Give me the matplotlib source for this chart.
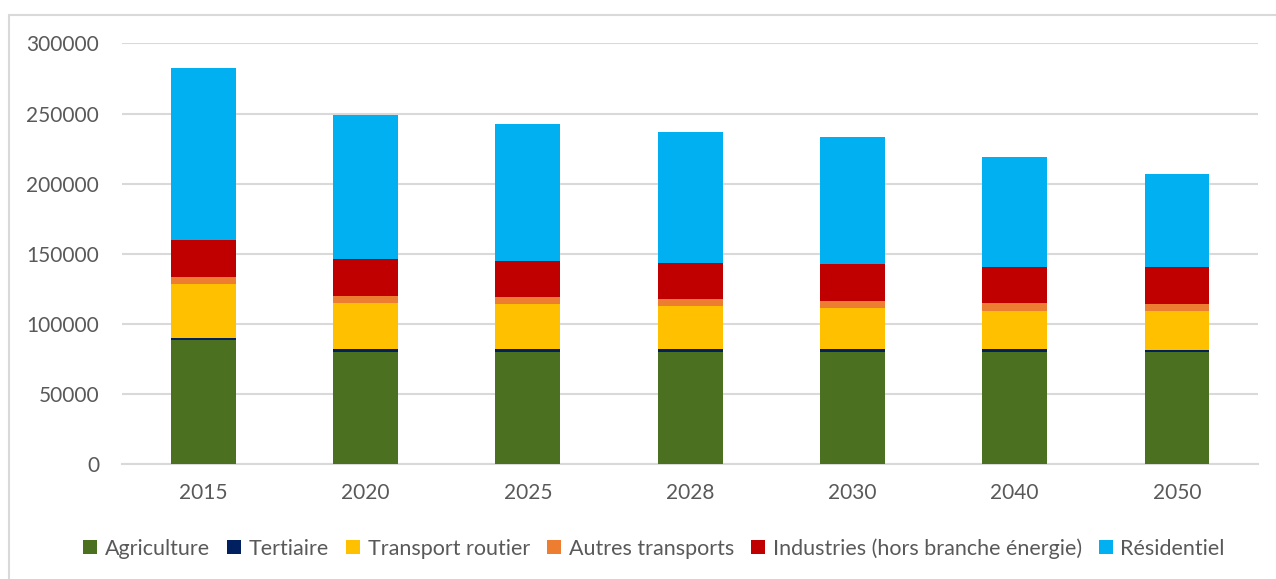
import numpy as np
import matplotlib.pyplot as plt
from matplotlib.patches import Rectangle

# Years on the x axis
years = ['2015', '2020', '2025', '2028', '2030', '2040', '2050']

# Series values (stacked, bottom to top)
agriculture = [88600, 80000, 80000, 80000, 80000, 80000, 80000]
tertiaire = [1600, 1700, 1700, 1700, 1700, 1700, 1400]
transport_routier = [38100, 33300, 32100, 30700, 29500, 27600, 27400]
autres_transports = [5000, 5000, 5500, 5000, 5200, 5500, 5500]
industries = [26700, 26000, 25700, 25700, 26000, 25400, 25900]
residentiel = [122500, 103300, 97900, 94000, 91200, 79100, 66900]

labels = ['Agriculture', 'Tertiaire', 'Transport routier', 'Autres transports',
          'Industries (hors branche énergie)', 'Résidentiel']
colors = ['#4a7020', '#002060', '#ffc000', '#ed7d31', '#c00000', '#00b0f0']
series = [agriculture, tertiaire, transport_routier, autres_transports, industries, residentiel]

plt.rcParams['font.family'] = ['Lato', 'DejaVu Sans']
txt = '#595959'

fig = plt.figure(figsize=(12.76, 5.79), dpi=100)
ax = fig.add_axes([0.0956, 0.1986, 0.8904, 0.7263])

x = np.arange(len(years))
bottom = np.zeros(len(years))
for vals, lab, col in zip(series, labels, colors):
    ax.bar(x, vals, 0.4, bottom=bottom, color=col, label=lab, zorder=3)
    bottom += np.array(vals)

ax.set_xlim(-0.5, len(years) - 0.5)
ax.set_ylim(0, 300000)
ax.set_yticks(np.arange(0, 300001, 50000))
ax.set_yticklabels([str(v) for v in range(0, 300001, 50000)])
ax.set_xticks(x)
ax.set_xticklabels(years)
ax.tick_params(length=0, labelsize=15, colors=txt)
ax.tick_params(axis='x', pad=14)
ax.tick_params(axis='y', pad=16.5)
ax.grid(axis='y', color='#d9d9d9', linewidth=1.5, zorder=0)
for s in ['top', 'right', 'left']:
    ax.spines[s].set_visible(False)
ax.spines['bottom'].set_color('#d9d9d9')
ax.spines['bottom'].set_linewidth(1.5)

leg = fig.legend(loc='center', bbox_to_anchor=(0.5125, 0.053), ncol=6, frameon=False,
                 fontsize=15.5, handlelength=0.65, handleheight=0.65, handletextpad=0.35,
                 columnspacing=0.8, labelcolor=txt)

# outer chart border
fig.patches.append(Rectangle((9 / 1276, -0.01), 1.02, 1 - 15 / 579 + 0.01,
                             transform=fig.transFigure, fill=False,
                             edgecolor='#d9d9d9', linewidth=1.5))

fig.savefig('out.png', dpi=100)
